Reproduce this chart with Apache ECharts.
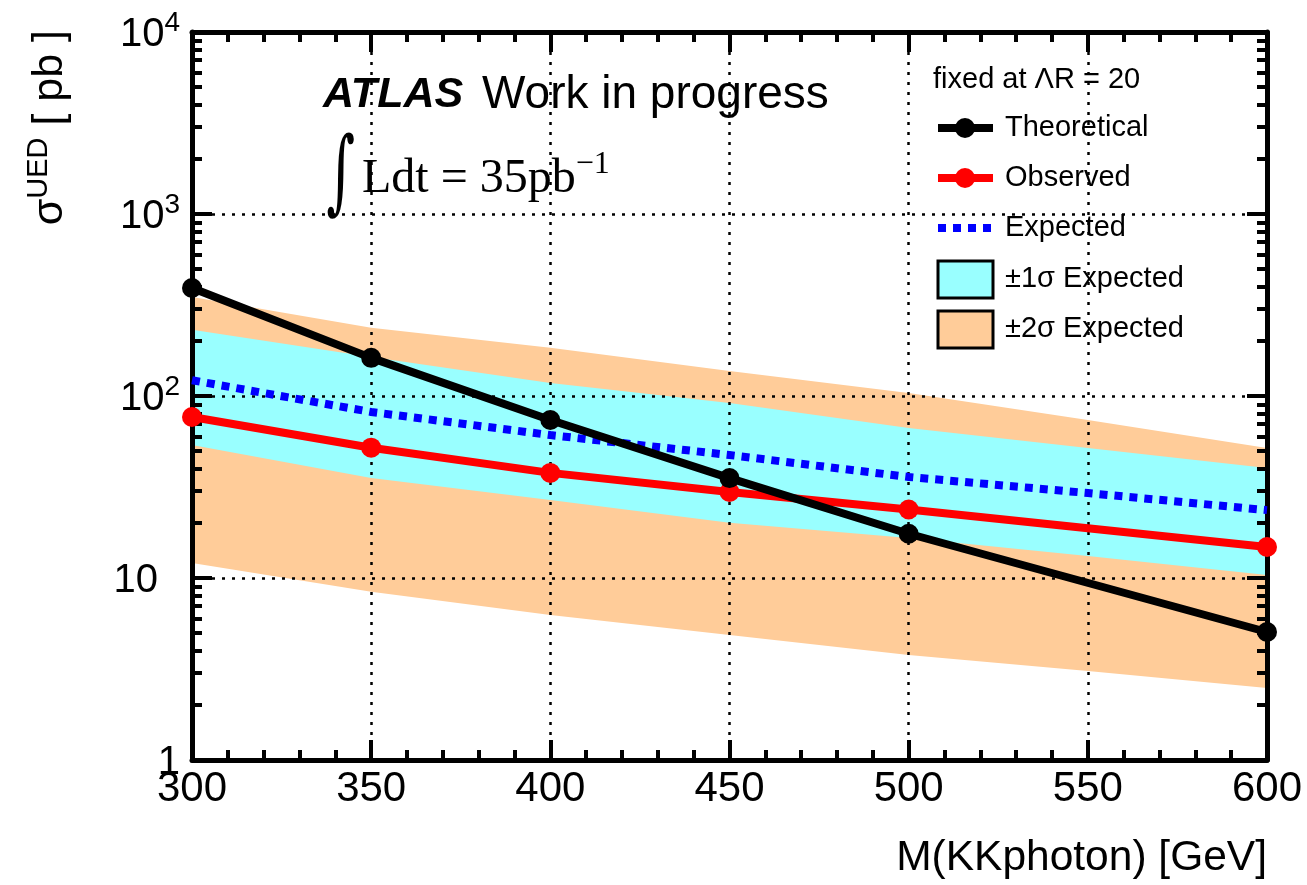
<!DOCTYPE html>
<html>
<head>
<meta charset="utf-8">
<script src="https://cdn.jsdelivr.net/npm/echarts@6/dist/echarts.min.js"></script>
<style>
html,body{margin:0;padding:0;background:#fff;}
#chart{width:1307px;height:885px;}
</style>
</head>
<body>
<div id="chart"></div>
<script>
// ---- data ----
const massX = [300, 350, 400, 450, 500, 550, 600];
const markerMass = [300, 350, 400, 450, 500, 600];
const theoretical = [392, 162, 73.8, 35.4, 17.5, 5.05];
const observed = [76.7, 52, 37.8, 29.7, 23.8, 14.8];
const expected = [122, 81.7, 61, 47.4, 35.9, 29.3, 23.6];
const oneSigmaUp = [231, 164, 118, 91.6, 66.7, 51.8, 40.2];
const oneSigmaDown = [53.8, 35.4, 26.8, 20.1, 16.6, 13.2, 10.4];
const twoSigmaUp = [350, 237, 184, 137, 104, 73.8, 51.8];
const twoSigmaDown = [12.1, 8.4, 6.26, 4.86, 3.77, 3.08, 2.49];
const yMajorTicks = [1, 10, 100, 1000, 10000];
const yMinorTicks = [2,3,4,5,6,7,8,9,20,30,40,50,60,70,80,90,200,300,400,500,600,700,800,900,2000,3000,4000,5000,6000,7000,8000,9000];
const legendNames = ['Theoretical', 'Observed', 'Expected', '\u00b11\u03c3 Expected', '\u00b12\u03c3 Expected'];

const FONT = 'Liberation Sans, Arial, sans-serif';
const chart = echarts.init(document.getElementById('chart'), null, {renderer: 'canvas'});

function bandSeries(name, up, down, color, z) {
  return {
    type: 'custom', name: name, z: z, silent: true, animation: false, clip: true,
    coordinateSystem: 'cartesian2d', xAxisIndex: 0, yAxisIndex: 0,
    data: massX.map((x, i) => [x, up[i], down[i]]),
    encode: {x: 0, y: [1, 2]},
    renderItem: function (params, api) {
      if (params.dataIndex !== 0) return null;
      const pts = [];
      for (let i = 0; i < massX.length; i++) pts.push(api.coord([massX[i], up[i]]));
      for (let i = massX.length - 1; i >= 0; i--) pts.push(api.coord([massX[i], down[i]]));
      return {type: 'polygon', shape: {points: pts}, style: {fill: color, stroke: null}};
    }
  };
}

const gridDash = {color: '#000', width: 2.5, type: [3, 7]};
const xBase = {
  type: 'value', min: 300, max: 600, interval: 50, z: 3,
  axisLine: {show: true, lineStyle: {color: '#000', width: 5}},
  axisTick: {show: true, inside: true, length: 20, lineStyle: {color: '#000', width: 4}},
  minorTick: {show: true, splitNumber: 5, length: 10, lineStyle: {color: '#000', width: 4}},
  minorSplitLine: {show: false}
};
const yLogBase = {
  type: 'log', logBase: 10, min: 1, max: 10000, splitNumber: 4, z: 3
};

const option = {
  animation: false,
  backgroundColor: '#fff',
  grid: {left: 192, right: 40, top: 32, bottom: 125, containLabel: false, outerBoundsMode: 'none'},
  xAxis: [
    Object.assign({}, xBase, {
      position: 'bottom',
      splitLine: {show: true, lineStyle: gridDash},
      axisLabel: {show: true, color: '#000', fontFamily: FONT, fontSize: 42, margin: 8,
        showMinLabel: true, showMaxLabel: true}
    }),
    Object.assign({}, xBase, {
      position: 'top',
      splitLine: {show: false},
      axisLabel: {show: false}
    })
  ],
  yAxis: [
    Object.assign({}, yLogBase, {
      position: 'left',
      axisLine: {show: true, lineStyle: {color: '#000', width: 5}},
      axisTick: {show: true, inside: true, length: 20, lineStyle: {color: '#000', width: 4}},
      splitLine: {show: true, lineStyle: gridDash},
      axisLabel: {
        show: true, color: '#000', margin: 12, showMinLabel: true, showMaxLabel: true,
        formatter: function (v) {
          const e = Math.round(Math.log10(v));
          if (e === 0) return '{n|1}';
          if (e === 1) return '{n|10}{pad|}';
          return '{n|10}{s|' + e + '}';
        },
        rich: {
          n: {fontFamily: FONT, fontSize: 40, color: '#000', lineHeight: 46, verticalAlign: 'bottom'},
          s: {fontFamily: FONT, fontSize: 28, color: '#000', lineHeight: 46, verticalAlign: 'top'},
          pad: {width: 22}
        }
      }
    }),
    Object.assign({}, yLogBase, {
      position: 'left',
      axisLine: {show: false},
      axisTick: {show: true, inside: true, length: 10, customValues: yMinorTicks, lineStyle: {color: '#000', width: 4}},
      splitLine: {show: false}, axisLabel: {show: false}
    }),
    Object.assign({}, yLogBase, {
      position: 'right',
      axisLine: {show: true, lineStyle: {color: '#000', width: 5}},
      axisTick: {show: true, inside: true, length: 20, lineStyle: {color: '#000', width: 4}},
      splitLine: {show: false}, axisLabel: {show: false}
    }),
    Object.assign({}, yLogBase, {
      position: 'right',
      axisLine: {show: false},
      axisTick: {show: true, inside: true, length: 10, customValues: yMinorTicks, lineStyle: {color: '#000', width: 4}},
      splitLine: {show: false}, axisLabel: {show: false}
    })
  ],
  series: [
    bandSeries(legendNames[4], twoSigmaUp, twoSigmaDown, '#ffcc99', 1),
    bandSeries(legendNames[3], oneSigmaUp, oneSigmaDown, '#99ffff', 1.5),
    {
      type: 'line', name: legendNames[2], z: 4, silent: true,
      data: massX.map((x, i) => [x, expected[i]]),
      symbol: 'none', smooth: false,
      lineStyle: {color: '#0000ff', width: 8, type: [8, 7], cap: 'butt'}
    },
    {
      type: 'line', name: legendNames[1], z: 5, silent: true,
      data: markerMass.map((x, i) => [x, observed[i]]),
      symbol: 'circle', symbolSize: 20,
      itemStyle: {color: '#ff0000'},
      lineStyle: {color: '#ff0000', width: 8}
    },
    {
      type: 'line', name: legendNames[0], z: 6, silent: true,
      data: markerMass.map((x, i) => [x, theoretical[i]]),
      symbol: 'circle', symbolSize: 20,
      itemStyle: {color: '#000000'},
      lineStyle: {color: '#000000', width: 8}
    }
  ],
  graphic: [
    // ATLAS label
    {type: 'text', x: 323, y: 95, z: 10, style: {
      text: 'ATLAS', fontFamily: FONT, fontSize: 43, fontWeight: 'bold', fontStyle: 'italic', fill: '#000',
      verticalAlign: 'middle', align: 'left'
    }},
    {type: 'text', x: 482, y: 95, z: 10, style: {
      text: 'Work in progress', fontFamily: FONT, fontSize: 46, fill: '#000',
      verticalAlign: 'middle', align: 'left'
    }},
    // integral
    {type: 'text', x: 341, y: 178, scaleX: 0.6, z: 10, style: {
      text: '\u222b', fontFamily: 'DejaVu Serif', fontSize: 92, fill: '#000', align: 'center', verticalAlign: 'middle'
    }},
    {type: 'text', x: 362, y: 176, z: 10, style: {
      text: '{m|Ldt = 35pb}{s|\u22121}', align: 'left', verticalAlign: 'middle',
      rich: {
        m: {fontFamily: 'Liberation Serif, DejaVu Serif, serif', fontSize: 48, fill: '#000', lineHeight: 54, verticalAlign: 'bottom'},
        s: {fontFamily: 'Liberation Serif, DejaVu Serif, serif', fontSize: 32, fill: '#000', lineHeight: 54, verticalAlign: 'top'}
      }
    }},
    // legend header
    {type: 'text', x: 933, y: 80, z: 10, style: {
      text: 'fixed at \u039bR = 20', fontFamily: FONT, fontSize: 29, fill: '#000', align: 'left', verticalAlign: 'middle'
    }},
    // Theoretical
    {type: 'line', z: 10, shape: {x1: 938, y1: 128, x2: 993, y2: 128}, style: {stroke: '#000', lineWidth: 8}},
    {type: 'circle', z: 10, shape: {cx: 965, cy: 128, r: 10}, style: {fill: '#000'}},
    {type: 'text', x: 1005, y: 128, z: 10, style: {text: legendNames[0], fontFamily: FONT, fontSize: 29, fill: '#000', verticalAlign: 'middle'}},
    // Observed
    {type: 'line', z: 10, shape: {x1: 938, y1: 178, x2: 993, y2: 178}, style: {stroke: '#ff0000', lineWidth: 8}},
    {type: 'circle', z: 10, shape: {cx: 965, cy: 178, r: 10}, style: {fill: '#ff0000'}},
    {type: 'text', x: 1005, y: 178, z: 10, style: {text: legendNames[1], fontFamily: FONT, fontSize: 29, fill: '#000', verticalAlign: 'middle'}},
    // Expected
    {type: 'line', z: 10, shape: {x1: 938, y1: 228, x2: 993, y2: 228}, style: {stroke: '#0000ff', lineWidth: 8, lineDash: [8, 7]}},
    {type: 'text', x: 1005, y: 228, z: 10, style: {text: legendNames[2], fontFamily: FONT, fontSize: 29, fill: '#000', verticalAlign: 'middle'}},
    // 1 sigma
    {type: 'rect', z: 10, shape: {x: 938, y: 261, width: 55, height: 37}, style: {fill: '#99ffff', stroke: '#000', lineWidth: 3}},
    {type: 'text', x: 1005, y: 279, z: 10, style: {text: legendNames[3], fontFamily: FONT, fontSize: 29, fill: '#000', verticalAlign: 'middle'}},
    // 2 sigma
    {type: 'rect', z: 10, shape: {x: 938, y: 311, width: 55, height: 37}, style: {fill: '#ffcc99', stroke: '#000', lineWidth: 3}},
    {type: 'text', x: 1005, y: 329, z: 10, style: {text: legendNames[4], fontFamily: FONT, fontSize: 29, fill: '#000', verticalAlign: 'middle'}},
    // axis titles
    {type: 'text', x: 1267, y: 858, z: 10, style: {
      text: 'M(KKphoton) [GeV]', fontFamily: FONT, fontSize: 42.5, fill: '#000', align: 'right', verticalAlign: 'middle'
    }},
    {type: 'text', x: 48, y: 30, rotation: Math.PI / 2, z: 10, style: {
      text: '{m|\u03c3}{s|UED}{m| [ pb ]}', align: 'right', verticalAlign: 'middle',
      rich: {
        m: {fontFamily: FONT, fontSize: 43, fill: '#000', lineHeight: 48, verticalAlign: 'bottom'},
        s: {fontFamily: FONT, fontSize: 29, fill: '#000', lineHeight: 48, verticalAlign: 'top'}
      }
    }}
  ]
};
chart.setOption(option);
</script>
</body>
</html>
